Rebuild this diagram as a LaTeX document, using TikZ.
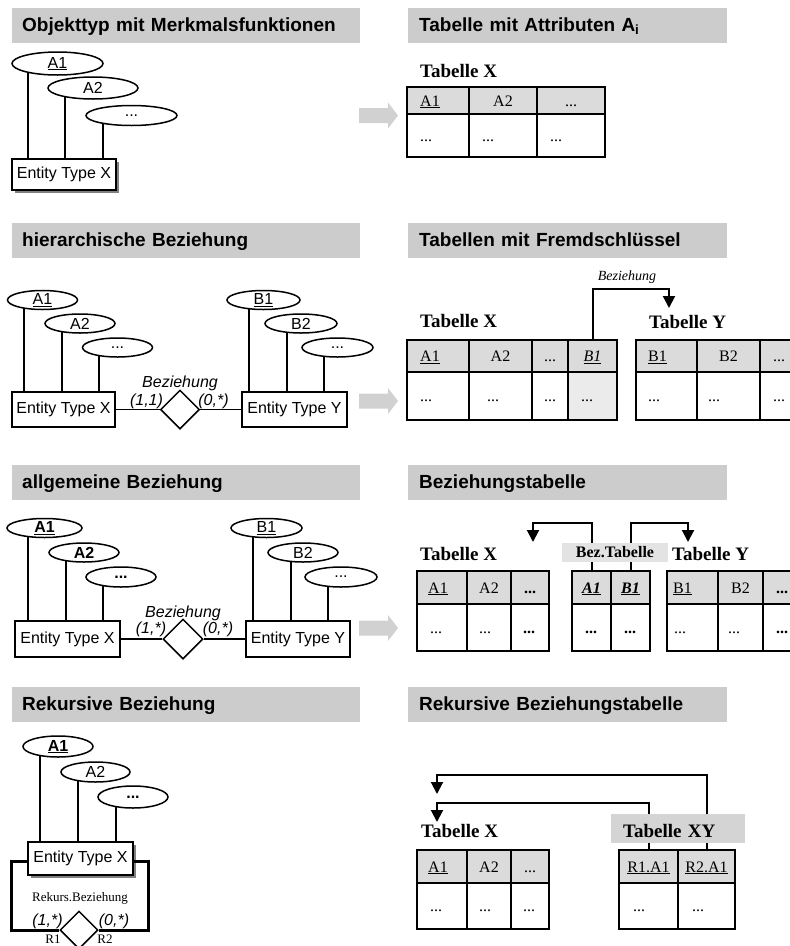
\documentclass[tikz,border=0pt]{standalone}
\usepackage{fontspec}
\setmainfont{Liberation Serif}
\newfontfamily\arialf{Liberation Sans}
\usetikzlibrary{shapes.geometric,arrows.meta,backgrounds,shadows}

\definecolor{hdrgray}{gray}{0.80}
\definecolor{cellgray}{gray}{0.86}
\definecolor{keygray}{gray}{0.92}
\definecolor{arrgray}{gray}{0.82}
\definecolor{bezgray}{gray}{0.89}
\definecolor{xygray}{gray}{0.83}
\definecolor{shadowgray}{gray}{0.50}

\newcommand\hdrf{\arialf\bfseries\fontsize{19}{22}\selectfont}
\newcommand\erf{\arialf\fontsize{16}{19}\selectfont}
\newcommand\tabf{\fontsize{16}{19}\selectfont}
\newcommand\titf{\bfseries\fontsize{19}{22}\selectfont}
\newcommand\smallf{\fontsize{13}{15}\selectfont}

% table cell with its text set in from the left edge
\newcommand\cellL[8][13]{%
  \node[#2, minimum width=#6pt, minimum height=#7pt] (#3) at (#4,#5) {};
  \node[ttext] (#3-t) at ([xshift=#1pt]#3.west) {#8};}
% table cell with centred text
\newcommand\cellC[7]{%
  \node[#1, minimum width=#5pt, minimum height=#6pt] (#2) at (#3,#4) {#7};}
% line from an attribute ellipse down to its entity box
\newcommand\attrline[4][]{%
  \draw[attrline,#1] ([xshift=#2pt]#3.center) -- ([xshift=#2pt]#3.center |- #4.north);}

\begin{document}
\begin{tikzpicture}[x=1pt,y=-1pt,
  hdrbox/.style={fill=hdrgray, anchor=north west, minimum height=35pt,
    inner ysep=0pt, text height=14pt, text depth=3pt, align=left, font=\hdrf},
  lefthdr/.style={hdrbox, inner xsep=10pt, text width=328pt},
  righthdr/.style={hdrbox, inner xsep=11pt, text width=297pt},
  attr/.style={ellipse, draw, fill=white, line width=1.5pt, inner sep=0pt, font=\erf},
  entity/.style={draw, fill=white, line width=1.5pt, inner sep=0pt, font=\erf},
  shadowed/.style={general shadow={fill=shadowgray, shadow xshift=3pt, shadow yshift=-3pt}},
  rel/.style={diamond, draw, fill=white, line width=1.5pt, inner sep=0pt, aspect=1},
  attrline/.style={line width=1.6pt},
  link/.style={line width=1.6pt},
  card/.style={inner sep=0pt, font=\erf\itshape},
  tcell/.style={draw, line width=2.8pt, anchor=north west, outer sep=0pt, inner sep=0pt,
    text height=13pt, text depth=2pt, font=\tabf},
  thead/.style={tcell, fill=cellgray},
  tbody/.style={tcell, fill=white},
  tkey/.style={tcell, fill=keygray},
  ttext/.style={anchor=west, inner sep=0pt, text height=13pt, text depth=2pt, font=\tabf},
  ttitle/.style={anchor=base west, inner sep=0pt, font=\titf},
  fkarrow/.style={line width=2pt, -{Triangle[width=12pt,length=12pt]}},
  garrow/.pic={\fill[arrgray] (0,-7.5) -- (29,-7.5) -- (29,-13) -- (39,0) -- (29,13)
    -- (29,7.5) -- (0,7.5) -- cycle;}
]
\useasboundingbox (0,0) rectangle (790,946);

% ---------- section headers ----------
\node[lefthdr]  (h1l) at (12,8)   {Objekttyp mit Merkmalsfunktionen};
\node[righthdr] (h1r) at (408,8)  {Tabelle mit Attributen A\textsubscript{i}};
\node[lefthdr]  (h2l) at (12,223) {hierarchische Beziehung};
\node[righthdr] (h2r) at (408,223){Tabellen mit Fremdschlüssel};
\node[lefthdr]  (h3l) at (12,465) {allgemeine Beziehung};
\node[righthdr] (h3r) at (408,465){Beziehungstabelle};
\node[lefthdr]  (h4l) at (12,687) {Rekursive Beziehung};
\node[righthdr] (h4r) at (408,687){Rekursive Beziehungstabelle};

% ---------- gray transition arrows ----------
\pic at (359,115.5) {garrow};
\pic at (359,401)   {garrow};
\pic at (359,628)   {garrow};

% ---------- 1: entity type with attributes ----------
\node[attr, minimum width=91pt, minimum height=23pt] (s1a1) at (57.5,63.5) {\underline{A1}};
\node[attr, minimum width=90pt, minimum height=22pt] (s1a2) at (93,88) {A2};
\node[attr, minimum width=91pt, minimum height=20pt] (s1a3) at (131.5,115.5) {...};
\node[entity, shadowed, minimum width=104pt, minimum height=31pt] (s1x) at (64,174.5) {Entity Type X};
\begin{pgfonlayer}{background}
  \attrline[line width=2.2pt]{-29.5}{s1a1}{s1x}
  \attrline[line width=2.2pt]{-28}{s1a2}{s1x}
  \attrline[line width=2.2pt]{-28.5}{s1a3}{s1x}
\end{pgfonlayer}

\node[ttitle] (t1x) at (420,77) {Tabelle X};
\cellL{thead}{t1h1}{407}{87}{62}{27}{\underline{A1}}
\cellC{thead}{t1h2}{469}{87}{68}{27}{A2}
\cellC{thead}{t1h3}{537}{87}{68}{27}{...}
\cellL{tbody}{t1b1}{407}{114}{62}{43}{...}
\cellL{tbody}{t1b2}{469}{114}{68}{43}{...}
\cellL{tbody}{t1b3}{537}{114}{68}{43}{...}

% ---------- 2: hierarchical relationship ----------
\node[attr, minimum width=70pt, minimum height=19pt] (s2a1) at (42.5,300) {\underline{A1}};
\node[attr, minimum width=70pt, minimum height=19pt] (s2a2) at (80,323.5) {A2};
\node[attr, minimum width=70pt, minimum height=19pt] (s2a3) at (117.5,347.5) {...};
\node[entity, minimum width=103pt, minimum height=35pt] (s2x) at (63.5,409.5) {Entity Type X};
\node[attr, minimum width=73pt, minimum height=19pt] (s2b1) at (263.5,300) {\underline{B1}};
\node[attr, minimum width=72pt, minimum height=19pt] (s2b2) at (301,323.5) {B2};
\node[attr, minimum width=71pt, minimum height=19pt] (s2b3) at (337.5,347.5) {...};
\node[entity, minimum width=105pt, minimum height=35pt] (s2y) at (294.5,409.5) {Entity Type Y};
\node[rel, minimum width=39pt, minimum height=39pt] (s2d) at (180,409.5) {};
\draw[link] (s2x.east) -- (s2d.west);
\draw[link] (s2d.east) -- (s2y.west);
\node[card, anchor=base] (s2bz) at (180,387) {Beziehung};
\node[card] (s2c1) at (146.5,401) {(1,1)};
\node[card] (s2c2) at (213.5,401) {(0,*)};
\begin{pgfonlayer}{background}
  \attrline{-18.5}{s2a1}{s2x}
  \attrline{-18}{s2a2}{s2x}
  \attrline{-18.5}{s2a3}{s2x}
  \attrline{-14.5}{s2b1}{s2y}
  \attrline{-14}{s2b2}{s2y}
  \attrline{-13.5}{s2b3}{s2y}
\end{pgfonlayer}

\node[ttitle] (t2x) at (420,327) {Tabelle X};
\node[ttitle] (t2y) at (649,328) {Tabelle Y};
\cellL{thead}{t2h1}{407}{340}{62}{32}{\underline{A1}}
\cellC{thead}{t2h2}{469}{340}{63}{32}{A2}
\cellC{thead}{t2h3}{532}{340}{36}{32}{...}
\cellC{thead}{t2h4}{568}{340}{49}{32}{\underline{\textit{B1}}}
\cellL{tbody}{t2b1}{407}{372}{62}{48}{...}
\cellL[18]{tbody}{t2b2}{469}{372}{63}{48}{...}
\cellC{tbody}{t2b3}{532}{372}{36}{48}{...}
\cellL{tkey}{t2b4}{568}{372}{49}{48}{...}
\cellL[12]{thead}{t2g1}{636}{340}{61}{32}{\underline{B1}}
\cellC{thead}{t2g2}{697}{340}{63}{32}{B2}
\cellL{thead}{t2g3}{760}{340}{63}{32}{...}
\cellL[12]{tbody}{t2c1}{636}{372}{61}{48}{...}
\cellL[11]{tbody}{t2c2}{697}{372}{63}{48}{...}
\cellL{tbody}{t2c3}{760}{372}{63}{48}{...}
\node[font=\fontsize{14}{16}\selectfont\itshape, inner sep=0pt] (t2lab) at (627,277) {Beziehung};
\coordinate (t2turn) at (669,289);
\coordinate (t2tip) at (669,308);
\begin{pgfonlayer}{background}
  \draw[fkarrow] (t2h4.north) |- (t2turn) -- (t2tip);
\end{pgfonlayer}

% ---------- 3: general relationship ----------
\node[attr, minimum width=75pt, minimum height=19pt] (s3a1) at (44.5,528) {\textbf{\underline{A1}}};
\node[attr, minimum width=70pt, minimum height=19pt] (s3a2) at (84,552.5) {\textbf{A2}};
\node[attr, minimum width=70pt, minimum height=20pt] (s3a3) at (121,577) {\textbf{...}};
\node[entity, minimum width=105pt, minimum height=36pt] (s3x) at (67.5,639) {Entity Type X};
\node[attr, minimum width=71pt, minimum height=19pt] (s3b1) at (266.5,528) {\underline{B1}};
\node[attr, minimum width=70pt, minimum height=19pt] (s3b2) at (303,552.5) {B2};
\node[attr, minimum width=72pt, minimum height=20pt] (s3b3) at (341,577) {...};
\node[entity, minimum width=104pt, minimum height=36pt] (s3y) at (298,639) {Entity Type Y};
\node[rel, minimum width=40pt, minimum height=40pt] (s3d) at (183,639) {};
\draw[link] (s3x.east) -- (s3d.west);
\draw[link] (s3d.east) -- (s3y.west);
\node[card, anchor=base] (s3bz) at (183,617) {Beziehung};
\node[card] (s3c1) at (151,629) {(1,*)};
\node[card] (s3c2) at (218,629) {(0,*)};
\begin{pgfonlayer}{background}
  \attrline{-16.5}{s3a1}{s3x}
  \attrline{-18}{s3a2}{s3x}
  \attrline{-18}{s3a3}{s3x}
  \attrline{-13.5}{s3b1}{s3y}
  \attrline{-12}{s3b2}{s3y}
  \attrline{-13}{s3b3}{s3y}
\end{pgfonlayer}

\node[ttitle] (t3x) at (420,560) {Tabelle X};
\node[ttitle] (t3y) at (672,560) {Tabelle Y};
\node[fill=bezgray, minimum width=106pt, minimum height=19pt, inner sep=0pt,
  text height=11pt, text depth=2pt, font=\bfseries\fontsize{16}{19}\selectfont] (t3bz) at (615,552.5) {Bez.Tabelle};
\cellL[11]{thead}{t3h1}{417}{571}{50}{33}{\underline{A1}}
\cellC{thead}{t3h2}{467}{571}{44}{33}{A2}
\cellC{thead}{t3h3}{511}{571}{38}{33}{\textbf{...}}
\cellL{tbody}{t3b1}{417}{604}{50}{47}{...}
\cellL[12]{tbody}{t3b2}{467}{604}{44}{47}{...}
\cellL[12]{tbody}{t3b3}{511}{604}{38}{47}{\textbf{...}}
\cellC{thead}{t3r1}{572}{571}{39}{33}{\textbf{\textit{\underline{A1}}}}
\cellC{thead}{t3r2}{611}{571}{39}{33}{\textbf{\textit{\underline{B1}}}}
\cellL{tbody}{t3s1}{572}{604}{39}{47}{\textbf{...}}
\cellL{tbody}{t3s2}{611}{604}{39}{47}{\textbf{...}}
\cellL[6]{thead}{t3g1}{667}{571}{51}{33}{\underline{B1}}
\cellC{thead}{t3g2}{718}{571}{45}{33}{B2}
\cellL{thead}{t3g3}{763}{571}{45}{33}{\textbf{...}}
\cellL[7]{tbody}{t3c1}{667}{604}{51}{47}{...}
\cellL[10]{tbody}{t3c2}{718}{604}{45}{47}{...}
\cellL{tbody}{t3c3}{763}{604}{45}{47}{\textbf{...}}
\coordinate (t3lturn) at (533,523);
\coordinate (t3ltip) at (533,542);
\coordinate (t3rturn) at (688,523);
\coordinate (t3rtip) at (688,542);
\begin{pgfonlayer}{background}
  \draw[fkarrow] (t3r1.north) |- (t3lturn) -- (t3ltip);
  \draw[fkarrow] (t3r2.north) |- (t3rturn) -- (t3rtip);
\end{pgfonlayer}

% ---------- 4: recursive relationship ----------
\node[attr, minimum width=70pt, minimum height=21pt] (s4a1) at (58,746.5) {\textbf{\underline{A1}}};
\node[attr, minimum width=69pt, minimum height=20pt] (s4a2) at (95.5,772) {A2};
\node[attr, minimum width=70pt, minimum height=22pt] (s4a3) at (133,797) {\textbf{...}};
\node[entity, shadowed, minimum width=105pt, minimum height=33pt] (s4x) at (80.5,858.5) {Entity Type X};
\node[rel, minimum width=38pt, minimum height=38pt] (s4d) at (79,930) {};
\draw[line width=3pt] ([yshift=-3pt]s4x.west) -- ++(-16,0) |- (s4d.west);
\draw[line width=3pt] ([yshift=-3pt]s4x.east) -- ++(15,0) |- (s4d.east);
\node[inner sep=0pt, font=\smallf] (s4bz) at (80,898) {Rekurs.Beziehung};
\node[card] (s4c1) at (47.5,921) {(1,*)};
\node[card] (s4c2) at (114,921) {(0,*)};
\node[inner sep=0pt, font=\smallf] (s4r1) at (53,939) {R1};
\node[inner sep=0pt, font=\smallf] (s4r2) at (105,939) {R2};
\begin{pgfonlayer}{background}
  \attrline{-18}{s4a1}{s4x}
  \attrline{-17.5}{s4a2}{s4x}
  \attrline{-17}{s4a3}{s4x}
\end{pgfonlayer}

\node[ttitle] (t4x) at (421,837) {Tabelle X};
\node[fill=xygray, anchor=north west, minimum width=134pt, minimum height=29pt,
  inner xsep=12pt, inner ysep=0pt, text width=110pt, text height=17pt, text depth=0pt,
  align=left, font=\titf] (t4xy) at (611,814) {Tabelle XY};
\cellL[11]{thead}{t4h1}{417}{850}{50}{33}{\underline{A1}}
\cellC{thead}{t4h2}{467}{850}{44}{33}{A2}
\cellC{thead}{t4h3}{511}{850}{38}{33}{...}
\cellL{tbody}{t4b1}{417}{883}{50}{46}{...}
\cellL[12]{tbody}{t4b2}{467}{883}{44}{46}{...}
\cellL[12]{tbody}{t4b3}{511}{883}{38}{46}{...}
\cellC{thead}{t4r1}{619}{850}{59}{33}{\underline{R1.A1}}
\cellC{thead}{t4r2}{678}{850}{57}{33}{\underline{R2.A1}}
\cellL[14]{tbody}{t4s1}{619}{883}{59}{46}{...}
\cellL[14]{tbody}{t4s2}{678}{883}{57}{46}{...}
\coordinate (t4iturn) at (437,803);
\coordinate (t4itip) at (437,822);
\coordinate (t4oturn) at (437,775);
\coordinate (t4otip) at (437,794);
\begin{pgfonlayer}{background}
  \draw[fkarrow] (t4r1.north) |- (t4iturn) -- (t4itip);
  \draw[fkarrow] (t4r2.north) |- (t4oturn) -- (t4otip);
\end{pgfonlayer}
\end{tikzpicture}
\end{document}
